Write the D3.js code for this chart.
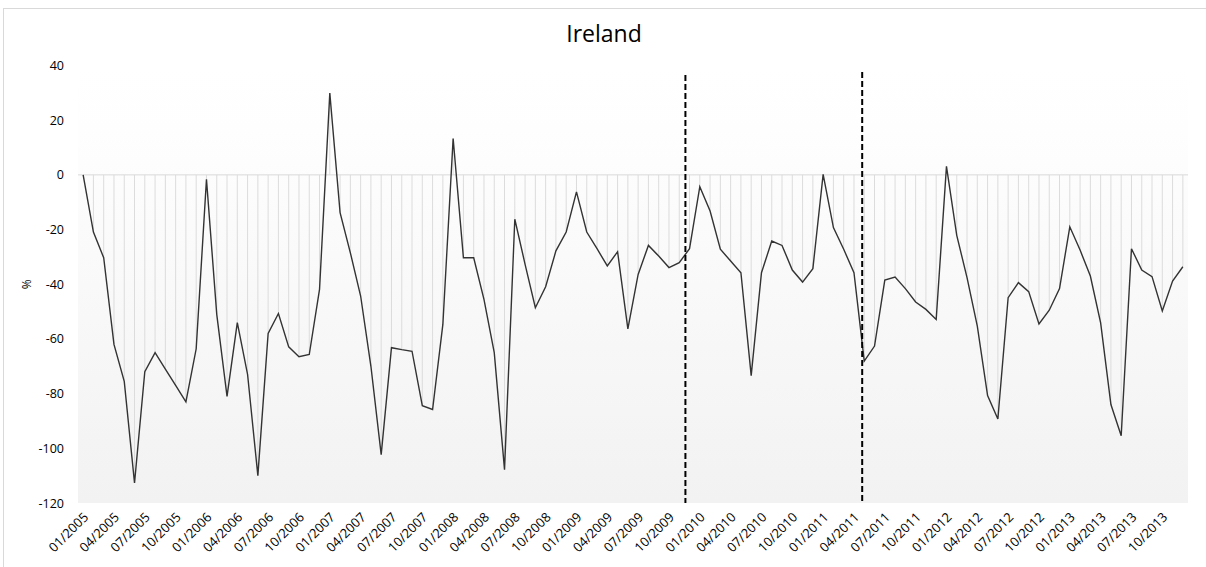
<!DOCTYPE html>
<html>
<head>
<meta charset="utf-8">
<script src="https://cdn.jsdelivr.net/npm/d3@7"></script>
<style>
  body { margin: 0; background: #fff; }
  text { font-family: "Open Sans", "Liberation Sans", sans-serif; fill: #000; }
</style>
</head>
<body>
<svg id="chart" width="1206" height="567"></svg>
<script>
// monthly values, 01/2005 .. 12/2013
var values = [
  0, -20.9, -30.3, -62, -75.5, -112.7, -72, -65, -71, -77, -83, -63.6,
  -1.6, -51, -81, -54, -73, -110, -58, -50.7, -62.9, -66.5, -65.7, -41.9,
  29.9, -13.8, -28.5, -44.3, -70, -102.3, -63.2, -63.9, -64.5, -84.4, -85.8, -54.7,
  13.3, -30.3, -30.3, -45.5, -65, -107.8, -16.2, -32.7, -48.6, -40.9, -27.8, -20.9,
  -6.2, -20.9, -27, -33.3, -28.1, -56.3, -36.4, -25.8, -29.7, -33.9, -32.1, -27,
  -4.3, -13.2, -27.2, -31.5, -35.8, -73.4, -35.8, -24.2, -25.8, -34.8, -39.2, -34.3,
  0.2, -19.3, -27.2, -35.8, -68.1, -62.6, -38.5, -37.4, -41.6, -46.5, -49.2, -52.9,
  3.1, -22.1, -37.6, -55.3, -80.7, -89.3, -44.9, -39.4, -42.7, -54.5, -49.5, -41.6,
  -19, -27.5, -37, -54.1, -84, -95.4, -27, -34.8, -37.2, -49.8, -38.8, -33.6
];
// month labels
var months = [];
for (var yr = 2005; yr <= 2013; yr++) {
  for (var m = 1; m <= 12; m++) {
    months.push((m < 10 ? "0" + m : "" + m) + "/" + yr);
  }
}
var yTicks = [40, 20, 0, -20, -40, -60, -80, -100, -120];
// dashed markers (fractional category positions)
var markers = [58.6, 75.8];

var svg = d3.select("#chart");

var plotLeft = 78, plotRight = 1188, plotTop = 65.5, plotBottom = 503;

var x = d3.scaleBand().domain(months).range([plotLeft, plotRight]);
var yScale = d3.scaleLinear().domain([-120, 40]).range([plotBottom, plotTop]);

function cx(i) { return x(months[i]) + x.bandwidth() / 2; }

// chart border
svg.append("rect")
  .attr("x", 3.5).attr("y", 8.5)
  .attr("width", 1220).attr("height", 600)
  .attr("fill", "none").attr("stroke", "#d9d9d9");

// plot area gradient
var defs = svg.append("defs");
var grad = defs.append("linearGradient").attr("id", "bg")
  .attr("x1", 0).attr("y1", 0).attr("x2", 0).attr("y2", 1);
grad.append("stop").attr("offset", "0%").attr("stop-color", "#ffffff");
grad.append("stop").attr("offset", "15%").attr("stop-color", "#fefefe");
grad.append("stop").attr("offset", "100%").attr("stop-color", "#f2f2f2");

svg.append("rect")
  .attr("x", plotLeft).attr("y", plotTop)
  .attr("width", plotRight - plotLeft).attr("height", plotBottom - plotTop)
  .attr("fill", "url(#bg)");

// zero line
svg.append("line")
  .attr("x1", plotLeft).attr("x2", plotRight)
  .attr("y1", yScale(0)).attr("y2", yScale(0))
  .attr("stroke", "#d9d9d9").attr("stroke-width", 1);

// drop lines
svg.append("g").selectAll("line")
  .data(values)
  .enter().append("line")
    .attr("x1", function(d, i) { return cx(i); })
    .attr("x2", function(d, i) { return cx(i); })
    .attr("y1", yScale(0))
    .attr("y2", function(d) { return yScale(d); })
    .attr("stroke", "#dcdcdc").attr("stroke-width", 1);

// series line
var line = d3.line()
  .x(function(d, i) { return cx(i); })
  .y(function(d) { return yScale(d); });

svg.append("path")
  .datum(values)
  .attr("d", line)
  .attr("fill", "none")
  .attr("stroke", "#333")
  .attr("stroke-width", 1.4);

// dashed vertical markers
svg.append("g").selectAll("line")
  .data(markers)
  .enter().append("line")
    .attr("x1", function(d) { return cx(0) + d * x.step(); })
    .attr("x2", function(d) { return cx(0) + d * x.step(); })
    .attr("y1", function(d, i) { return i == 0 ? 75 : 72; })
    .attr("y2", plotBottom)
    .attr("stroke", "#000").attr("stroke-width", 2)
    .attr("stroke-dasharray", "6,3");

// y axis
var yAxis = svg.append("g")
  .attr("transform", "translate(" + (plotLeft - 14) + ",0)")
  .call(d3.axisLeft(yScale).tickValues(yTicks)
    .tickFormat(function(d) { return String(d); })
    .tickSize(0).tickPadding(0));
yAxis.select(".domain").remove();
yAxis.selectAll("text")
  .style("font-size", "12.5px")
  .style("font-family", "'Open Sans', 'Liberation Sans', sans-serif")
  .attr("fill", "#000");

// x axis labels
var xAxis = svg.append("g")
  .attr("transform", "translate(0," + plotBottom + ")")
  .call(d3.axisBottom(x)
    .tickValues(months.filter(function(d, i) { return i % 3 == 0; }))
    .tickSize(0).tickPadding(0));
xAxis.select(".domain").remove();
xAxis.selectAll("text")
  .style("font-size", "13px")
  .style("font-family", "'Open Sans', 'Liberation Sans', sans-serif")
  .attr("fill", "#000")
  .attr("text-anchor", "end")
  .attr("dy", null)
  .attr("y", 0)
  .attr("transform", "translate(6,15) rotate(-45)");

// axis title
svg.append("text")
  .attr("transform", "translate(27," + (yScale(-40)) + ") rotate(-90)")
  .attr("text-anchor", "middle")
  .attr("dy", "0.35em")
  .style("font-size", "12px")
  .text("%");

// chart title
svg.append("text")
  .attr("x", 604).attr("y", 42)
  .attr("text-anchor", "middle")
  .style("font-size", "23px")
  .text("Ireland");
</script>
</body>
</html>
